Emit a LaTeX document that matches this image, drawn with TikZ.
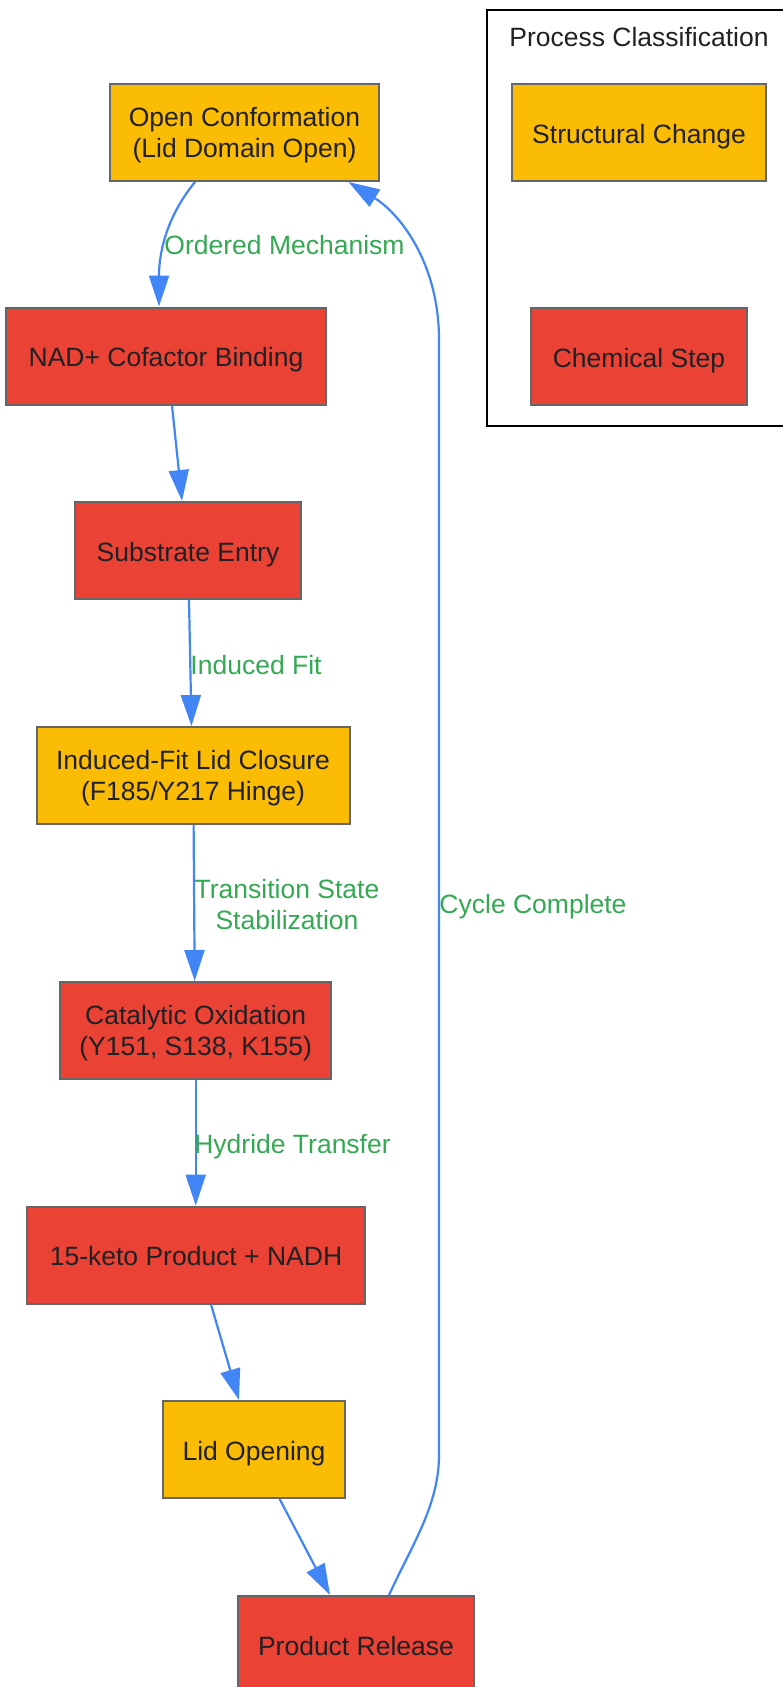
\documentclass[tikz,border=0pt]{standalone}
\usepackage{fontspec}
\setmainfont{Liberation Sans}
\usetikzlibrary{arrows.meta}
\definecolor{structfill}{HTML}{FBBC05}
\definecolor{chemfill}{HTML}{EA4335}
\definecolor{edgeblue}{HTML}{4285F4}
\definecolor{labelgreen}{HTML}{34A853}
\definecolor{bordergray}{HTML}{666666}
\definecolor{textdark}{HTML}{202124}
\begin{document}
\begin{tikzpicture}[x=1pt,y=-1pt,
  base/.style={draw=bordergray, line width=2pt, minimum height=97pt, inner sep=0pt, align=center, text=textdark, font=\fontsize{26.5}{31}\selectfont},
  one/.style={text height=21.5pt, text depth=0pt},
  two/.style={text depth=0pt},
  structbox/.style={base, fill=structfill},
  chembox/.style={base, fill=chemfill},
  edge/.style={draw=edgeblue, line width=2.2pt, -{Triangle[length=31pt,width=20pt]}},
  elabel/.style={text=labelgreen, font=\fontsize{26.5}{31}\selectfont, align=center, inner sep=0pt},
  cluster/.style={draw=black, line width=2.5pt},
  ctitle/.style={text=textdark, font=\fontsize{26.5}{31}\selectfont, inner sep=0pt},
]
\useasboundingbox (0,0) rectangle (783,1687);
\clip (0,0) rectangle (783,1687);

% cluster
\node[cluster, minimum width=313pt, minimum height=416pt, inner sep=0pt] (cl) at (643.5,218) {};
\node[ctitle] (cltitle) at (639,37.5) {Process Classification};
\node[structbox, one, minimum width=254pt] (legstruct) at (639,132.5) {Structural Change};
\node[chembox, one, minimum width=216pt] (legchem) at (639,356.5) {Chemical Step};

% main flow
\node[structbox, two, minimum width=269pt] (open) at (244.5,132.5) {Open Conformation\\(Lid Domain Open)};
\node[chembox, one, minimum width=319.5pt] (nad) at (166,356) {NAD+ Cofactor Binding};
\node[chembox, one, minimum width=226pt] (sub) at (188,550.5) {Substrate Entry};
\node[structbox, two, minimum width=313pt] (closure) at (193,775.5) {Induced-Fit Lid Closure\\(F185/Y217 Hinge)};
\node[chembox, two, minimum width=271pt] (cat) at (195.7,1030.5) {Catalytic Oxidation\\(Y151, S138, K155)};
\node[chembox, one, minimum width=337.5pt] (keto) at (196,1255) {15-keto Product + NADH};
\node[structbox, one, minimum width=181.5pt] (lidopen) at (254,1449.5) {Lid Opening};
\node[chembox, one, minimum width=236.5pt] (release) at (356,1644.5) {Product Release};

% edges
\draw[edge] ([xshift=-49.5pt]open.south) .. controls (168,215) and (159,250) .. ([xshift=-7pt]nad.north);
\draw[edge] ([xshift=6pt]nad.south) -- ([xshift=-6pt]sub.north);
\draw[edge] ([xshift=1pt]sub.south) -- ([xshift=-1.5pt]closure.north);
\draw[edge] ([xshift=0.6pt]closure.south) -- ([xshift=-1pt]cat.north);
\draw[edge] (cat.south) -- ([xshift=-0.3pt]keto.north);
\draw[edge] ([xshift=15pt]keto.south) -- ([xshift=-15pt]lidopen.north);
\draw[edge] ([xshift=25.6pt]lidopen.south) -- ([xshift=-26pt]release.north);
\draw[edge] ([xshift=33pt]release.north) .. controls (412,1545) and (439,1505) .. (439,1455)
  -- (439,340) .. controls (439,262) and (399,213) .. ([xshift=104pt]open.south);

% edge labels
\node[elabel] (l1) at (284.5,245.5) {Ordered Mechanism};
\node[elabel] (l2) at (256,665.5) {Induced Fit};
\node[elabel] (l3) at (287,905) {Transition State\\Stabilization};
\node[elabel] (l4) at (292.5,1147) {Hydride Transfer};
\node[elabel] (l5) at (533,907) {Cycle Complete};
\end{tikzpicture}
\end{document}
